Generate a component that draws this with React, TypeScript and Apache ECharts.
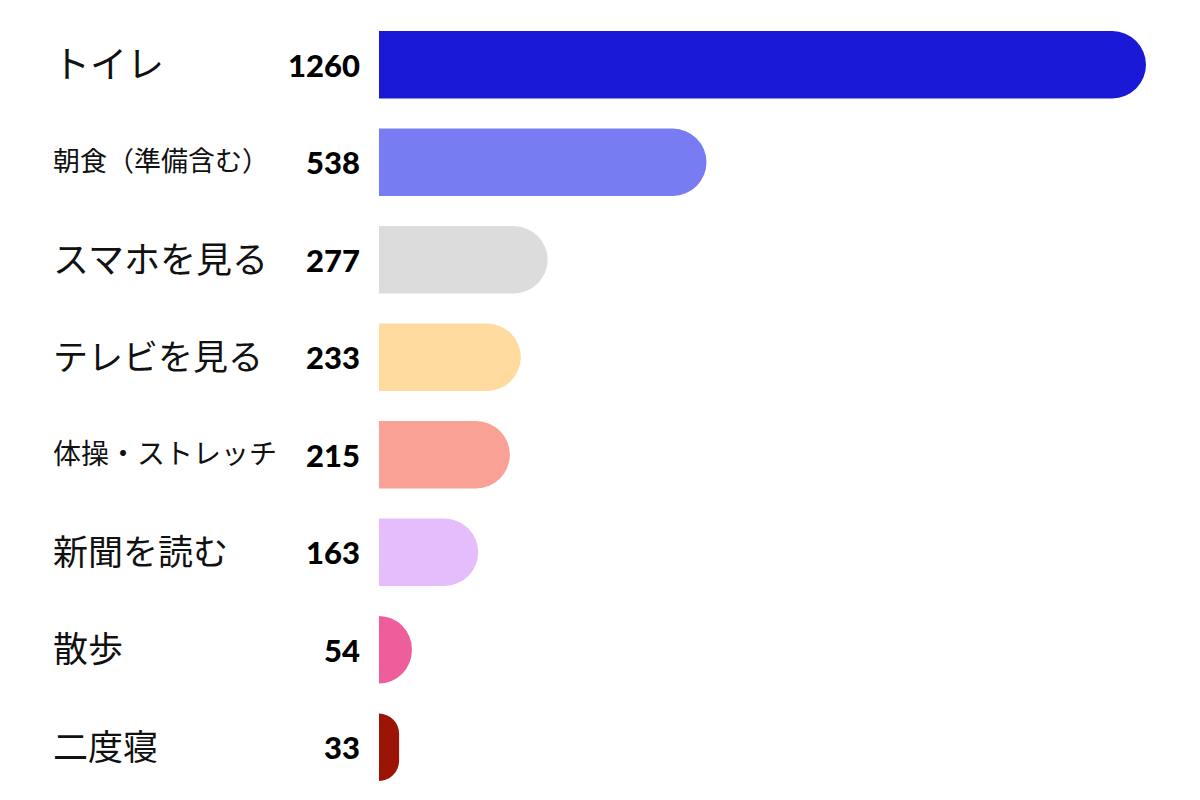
import React, { useEffect, useRef } from "react";
import * as echarts from "echarts";

const categories = ["トイレ", "朝食（準備含む）", "スマホを見る", "テレビを見る", "体操・ストレッチ", "新聞を読む", "散歩", "二度寝"];
const values = [1260, 538, 277, 233, 215, 163, 54, 33];
const colors = ["#1A1AD6", "#787CF3", "#DCDCDC", "#FFDBA0", "#F8A194", "#E5BDFC", "#EE5E9B", "#9B1406"];
const labelFontSizes = [37, 27, 36, 35, 28, 35, 35, 35];

export default function App() {
  const ref = useRef<HTMLDivElement>(null);
  useEffect(() => {
    if (!ref.current) return;
    const chart = echarts.init(ref.current, null, { renderer: "svg" });
    const rich: Record<string, any> = {};
    labelFontSizes.forEach((fs, i) => {
      rich["s" + i] = {
        fontSize: fs,
        fontFamily: "'Noto Sans CJK JP', sans-serif",
        color: "#111",
        padding: [0, 0, 6, 0],
      };
    });
    chart.setOption({
      animation: false,
      backgroundColor: "#ffffff",
      grid: { left: 379, right: 54, top: 16, bottom: 4, containLabel: false },
      xAxis: {
        type: "value",
        min: 0,
        max: 1260,
        show: false,
      },
      yAxis: {
        type: "category",
        data: categories,
        inverse: true,
        axisLine: { show: false },
        axisTick: { show: false },
        splitLine: { show: false },
        axisLabel: {
          align: "left",
          margin: 326,
          formatter: (v: string) => {
            const i = categories.indexOf(v);
            return `{s${i}|${v}}`;
          },
          rich,
        },
      },
      series: [
        {
          type: "bar",
          data: values.map((v, i) => ({ value: v, itemStyle: { color: colors[i] } })),
          barCategoryGap: "31%",
          itemStyle: { borderRadius: [0, 34, 34, 0] },
          label: {
            show: true,
            position: "left",
            distance: 19,
            fontFamily: "Lato, sans-serif",
            fontWeight: 900,
            fontSize: 31,
            color: "#000",
          },
        },
      ],
    });
    return () => chart.dispose();
  }, []);
  return (
    <div
      ref={ref}
      style={{ position: "fixed", left: 0, top: 0, width: 1200, height: 800, background: "#fff" }}
    />
  );
}
